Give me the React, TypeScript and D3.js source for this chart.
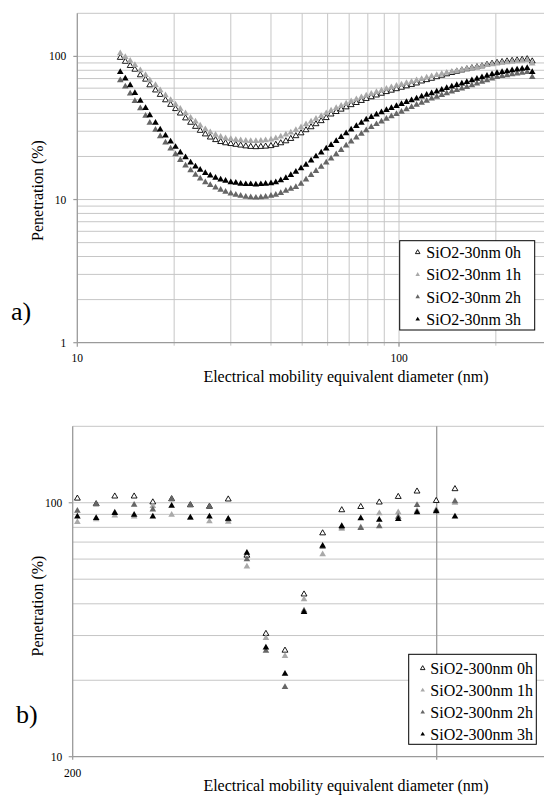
import React from "react";
import * as d3 from "d3";

// ---------- Chart a) data ----------
const diamA = [13.6, 14.1, 14.6, 15.1, 15.7, 16.3, 16.8, 17.5, 18.1, 18.8, 19.5, 20.2, 20.9, 21.7, 22.5, 23.3, 24.1, 25.0, 25.9, 26.9, 27.9, 28.9, 30.0, 31.1, 32.2, 33.4, 34.6, 35.9, 37.2, 38.5, 40.0, 41.4, 42.9, 44.5, 46.1, 47.8, 49.6, 51.4, 53.3, 55.2, 57.3, 59.4, 61.5, 63.8, 66.1, 68.5, 71.0, 73.7, 76.4, 79.1, 82.0, 85.1, 88.2, 91.4, 94.7, 98.2, 101.8, 105.5, 109.4, 113.4, 117.6, 121.9, 126.3, 131.0, 135.8, 140.7, 145.9, 151.2, 156.8, 162.5, 168.5, 174.7, 181.1, 187.7, 194.6, 201.7, 209.1, 216.7, 224.7, 232.9, 241.4, 250.3, 259.5];

const penA0h = [98, 92, 86, 81, 74, 69, 63, 58, 54, 49.5, 46, 43, 40, 37, 34.5, 32.3, 30.3, 28.6, 27.2, 26.1, 25.3, 24.8, 24.5, 24.2, 23.9, 23.6, 23.4, 23.3, 23.4, 23.5, 23.7, 24.2, 24.8, 25.6, 26.6, 27.8, 29.1, 30.6, 32.1, 33.7, 35.4, 37.2, 39.4, 41.0, 42.6, 44.2, 45.8, 47.4, 49.0, 50.6, 52.0, 53.5, 55.0, 56.5, 57.8, 59.2, 60.6, 62.0, 63.4, 64.9, 67.0, 68.5, 70.0, 71.8, 73.5, 75.2, 76.8, 78.4, 80.0, 81.5, 82.9, 84.2, 85.5, 87.5, 89.0, 90.3, 91.5, 92.5, 93.3, 94.0, 94.8, 95.8, 92.5];
const penA1h = [105, 99, 93, 87, 80, 74, 68, 63, 58, 53.5, 49.5, 46, 43, 40, 37.3, 35, 32.8, 31, 29.5, 28.3, 27.4, 26.8, 26.4, 26.1, 25.9, 25.7, 25.6, 25.6, 25.7, 25.9, 26.2, 26.8, 27.5, 28.4, 29.4, 30.6, 32.0, 33.5, 35.0, 36.6, 38.3, 40.0, 41.8, 43.5, 45.2, 46.9, 48.5, 50.2, 51.8, 53.3, 54.8, 56.3, 57.8, 59.3, 60.8, 62.2, 63.6, 65.0, 66.5, 68.0, 69.5, 71.0, 72.5, 74.0, 75.5, 76.8, 78.0, 79.3, 80.5, 81.8, 83.0, 84.3, 85.5, 86.8, 88.0, 89.0, 90.0, 90.8, 91.5, 92.2, 93.0, 94.0, 89.0];
const penA2h = [68, 61.5, 55, 48.8, 43.3, 38.5, 34.3, 30.7, 27.6, 25, 22.7, 20.7, 18.9, 17.3, 16.0, 14.9, 14.0, 13.2, 12.6, 12.1, 11.7, 11.3, 11.0, 10.8, 10.6, 10.45, 10.35, 10.3, 10.35, 10.45, 10.6, 10.8, 11.1, 11.5, 11.9, 12.2, 12.9, 13.8, 14.8, 15.8, 16.9, 18.1, 19.3, 20.7, 22.2, 23.8, 25.4, 27.1, 28.8, 30.5, 32.1, 33.6, 35.1, 36.6, 38.1, 39.6, 41.0, 42.6, 44.2, 45.8, 47.4, 49.0, 50.7, 52.2, 53.7, 55.2, 56.7, 58.2, 59.7, 61.1, 62.9, 64.6, 66.3, 68.1, 69.9, 71.7, 72.8, 73.8, 74.8, 75.8, 76.8, 77.7, 71.7];
const penA3h = [77.7, 70, 62.7, 55.5, 49, 43.5, 38.7, 34.3, 30.8, 28, 25.4, 23.3, 21.3, 19.7, 18.1, 17.0, 16.1, 15.3, 14.7, 14.2, 13.8, 13.5, 13.2, 13.1, 12.9, 12.8, 12.8, 12.7, 12.8, 12.9, 13.0, 13.2, 13.6, 14.1, 14.8, 15.6, 16.5, 17.5, 18.7, 20.0, 21.3, 22.7, 24.0, 25.6, 27.3, 29.0, 30.8, 32.6, 34.4, 36.2, 37.7, 39.2, 40.7, 42.1, 43.6, 45.0, 46.4, 47.9, 49.4, 50.8, 52.3, 53.8, 55.2, 56.8, 58.4, 60.0, 61.6, 63.1, 64.6, 66.2, 68.0, 69.7, 71.4, 73.1, 74.8, 76.5, 77.6, 78.7, 79.8, 80.8, 81.8, 82.9, 77.7];
const namesA = ["SiO2-30nm 0h", "SiO2-30nm 1h", "SiO2-30nm 2h", "SiO2-30nm 3h"];

// ---------- Chart b) data ----------
const diamB = [206, 232, 261, 295, 332, 374, 421, 475, 535, 602, 679, 766, 864, 972, 1097, 1237, 1391, 1568, 1766, 1994, 2245];
const penB0h = [104, 98.8, 106, 106, 100.5, 103.4, 97.9, 96.6, 103.2, 62, 30.5, 26.2, 43.6, 75.9, 93.6, 96.4, 100.4, 105.6, 110.9, 101.8, 113.3];
const penB1h = [84, 86, 89, 88.3, 97, 89.7, 87, 84.4, 84.1, 56.1, 29.3, 24.9, 41.7, 62.7, 79, 80, 90.8, 91.6, 93, 94, 100];
const penB2h = [93, 98.8, 91.5, 98.2, 94, 103.4, 97.9, 96.6, 86, 59.9, 26.1, 18.8, 37.6, 67, 80, 79.5, 80.7, 88, 97.9, 93, 101.3];
const penB3h = [88.3, 87, 91, 89.7, 88.3, 97.3, 87.5, 88.3, 86.5, 63.5, 26.9, 21.2, 37.1, 67.6, 81, 86.9, 85.6, 86.2, 91.6, 92.5, 88.3];
const namesB = ["SiO2-300nm 0h", "SiO2-300nm 1h", "SiO2-300nm 2h", "SiO2-300nm 3h"];

// ---------- tick labels ----------
const yTicksA = [1, 10, 100];
const xTicksA = [10, 100];
const yMinorA = [2, 3, 4, 5, 6, 7, 8, 9, 20, 30, 40, 50, 60, 70, 80, 90];
const xMinorA = [20, 30, 40, 50, 60, 70, 80, 90, 200];
const yTicksB = [10, 100];
const xTicksB = [200];
const yMinorB = [20, 30, 40, 50, 60, 70, 80, 90];
const xMajorB = [2000];

const seriesStyle = [
  { fill: "#ffffff", stroke: "#000000", sw: 0.9 },
  { fill: "#a9a9a9", stroke: "none", sw: 0 },
  { fill: "#666666", stroke: "none", sw: 0 },
  { fill: "#000000", stroke: "none", sw: 0 },
];

const FONT = "'Liberation Serif', 'Times New Roman', serif";
const GRID = "#c6c6c6";
const AXIS = "#9a9a9a";

const triBig = d3.symbol().type(d3.symbolTriangle).size(19)() as string;
const triBigOpen = d3.symbol().type(d3.symbolTriangle).size(15)() as string;
const triSmall = d3.symbol().type(d3.symbolTriangle).size(9)() as string;

function Legend({ x, y, w, h, names, rowY, markerX, textX }: any) {
  return (
    <g>
      <rect x={x} y={y} width={w} height={h} fill="#fff" stroke="#000" strokeWidth={1} />
      {names.map((n: string, i: number) => (
        <g key={n}>
          <path
            d={triSmall}
            transform={`translate(${markerX},${rowY[i]})`}
            fill={seriesStyle[i].fill}
            stroke={seriesStyle[i].stroke}
            strokeWidth={seriesStyle[i].sw}
          />
          <text x={textX} y={rowY[i] + 5.5} fontSize={16} fontFamily={FONT} fill="#000">
            {n}
          </text>
        </g>
      ))}
    </g>
  );
}

function ChartA() {
  const left = 77.3, right = 544, top = 13.3, bottom = 342.7;
  const x = d3.scaleLog().domain([10, 100]).range([left, 399]);
  const y = d3.scaleLog().domain([1, 200]).range([bottom, top]);
  const series = [penA0h, penA1h, penA2h, penA3h];
  return (
    <g>
      {/* horizontal grid */}
      {[...yMinorA, 10, 100, 200].map((v) => (
        <line key={"h" + v} x1={left} x2={right} y1={y(v)} y2={y(v)} stroke={GRID} strokeWidth={1} />
      ))}
      {/* vertical grid */}
      {[...xMinorA, 100].map((v) => (
        <line key={"v" + v} x1={x(v)} x2={x(v)} y1={top} y2={bottom + 3} stroke={GRID} strokeWidth={1} />
      ))}
      {/* axes */}
      <line x1={left} x2={left} y1={top} y2={bottom} stroke={AXIS} strokeWidth={1.3} />
      <line x1={left} x2={right} y1={bottom} y2={bottom} stroke={AXIS} strokeWidth={1.3} />
      {yTicksA.map((v) => (
        <g key={"yt" + v}>
          <line x1={left - 4} x2={left} y1={y(v)} y2={y(v)} stroke={AXIS} strokeWidth={1.2} />
          <text x={left - 11} y={y(v) + 4} textAnchor="end" fontSize={11.5} fontFamily={FONT}>
            {v}
          </text>
        </g>
      ))}
      {xTicksA.map((v) => (
        <g key={"xt" + v}>
          <line x1={x(v)} x2={x(v)} y1={bottom} y2={bottom + 4} stroke={AXIS} strokeWidth={1.2} />
          <text x={x(v)} y={bottom + 19.5} textAnchor="middle" fontSize={11.5} fontFamily={FONT}>
            {v}
          </text>
        </g>
      ))}
      {/* data */}
      {series.map((s, si) => (
        <g key={"s" + si}>
          {s.map((v, i) => (
            <path
              key={i}
              d={si === 0 ? triBigOpen : triBig}
              transform={`translate(${x(diamA[i])},${y(v)})`}
              fill={seriesStyle[si].fill}
              stroke={seriesStyle[si].stroke}
              strokeWidth={seriesStyle[si].sw}
            />
          ))}
        </g>
      ))}
      <Legend x={399.7} y={240.7} w={135} h={89.3} names={namesA} rowY={[252.3, 274.7, 297, 319.3]} markerX={417.7} textX={426.3} />
      <text x={346} y={381.5} textAnchor="middle" fontSize={16} fontFamily={FONT}>
        Electrical mobility equivalent diameter (nm)
      </text>
      <text transform="translate(43,190.5) rotate(-90)" textAnchor="middle" fontSize={16} fontFamily={FONT}>
        Penetration (%)
      </text>
      <text x={11} y={320} fontSize={26} fontFamily={FONT}>
        a)
      </text>
    </g>
  );
}

function ChartB() {
  const left = 72.7, right = 544, top = 426.3, bottom = 756.7;
  const x = d3.scaleLog().domain([200, 2000]).range([left, 436.7]);
  const y = d3.scaleLog().domain([10, 200]).range([bottom, top]);
  const series = [penB0h, penB1h, penB2h, penB3h];
  return (
    <g>
      {[...yMinorB, 100, 200].map((v) => (
        <line key={"h" + v} x1={left} x2={right} y1={y(v)} y2={y(v)} stroke={GRID} strokeWidth={1} />
      ))}
      {xMajorB.map((v) => (
        <line key={"v" + v} x1={x(v)} x2={x(v)} y1={top} y2={bottom + 3} stroke={AXIS} strokeWidth={1.3} />
      ))}
      <line x1={left} x2={left} y1={top} y2={bottom} stroke={AXIS} strokeWidth={1.3} />
      <line x1={left} x2={right} y1={bottom} y2={bottom} stroke={AXIS} strokeWidth={1.3} />
      {yTicksB.map((v) => (
        <g key={"yt" + v}>
          <line x1={left - 4} x2={left} y1={y(v)} y2={y(v)} stroke={AXIS} strokeWidth={1.2} />
          <text x={left - 10.5} y={y(v) + 4} textAnchor="end" fontSize={11.5} fontFamily={FONT}>
            {v}
          </text>
        </g>
      ))}
      {xTicksB.map((v) => (
        <g key={"xt" + v}>
          <line x1={x(v)} x2={x(v)} y1={bottom} y2={bottom + 3} stroke={AXIS} strokeWidth={1.2} />
          <text x={x(v)} y={bottom + 20.5} textAnchor="middle" fontSize={11.5} fontFamily={FONT}>
            {v}
          </text>
        </g>
      ))}
      {series.map((s, si) => (
        <g key={"s" + si}>
          {s.map((v, i) => (
            <path
              key={i}
              d={si === 0 ? triBigOpen : triBig}
              transform={`translate(${x(diamB[i])},${y(v)})`}
              fill={seriesStyle[si].fill}
              stroke={seriesStyle[si].stroke}
              strokeWidth={seriesStyle[si].sw}
            />
          ))}
        </g>
      ))}
      <Legend x={408.7} y={654.3} w={127.6} h={90} names={namesB} rowY={[668.3, 690.3, 712.3, 734.3]} markerX={422.7} textX={430.3} />
      <text x={346} y={791} textAnchor="middle" fontSize={16} fontFamily={FONT}>
        Electrical mobility equivalent diameter (nm)
      </text>
      <text transform="translate(43,606) rotate(-90)" textAnchor="middle" fontSize={16} fontFamily={FONT}>
        Penetration (%)
      </text>
      <text x={16} y={723} fontSize={26} fontFamily={FONT}>
        b)
      </text>
    </g>
  );
}

export default function App() {
  return (
    <div style={{ position: "absolute", left: 0, top: 0 }}>
      <svg width={544} height={795} viewBox="0 0 544 795" style={{ display: "block", background: "#fff" }}>
        <rect x={0} y={0} width={544} height={795} fill="#fff" />
        <ChartA />
        <ChartB />
      </svg>
    </div>
  );
}
